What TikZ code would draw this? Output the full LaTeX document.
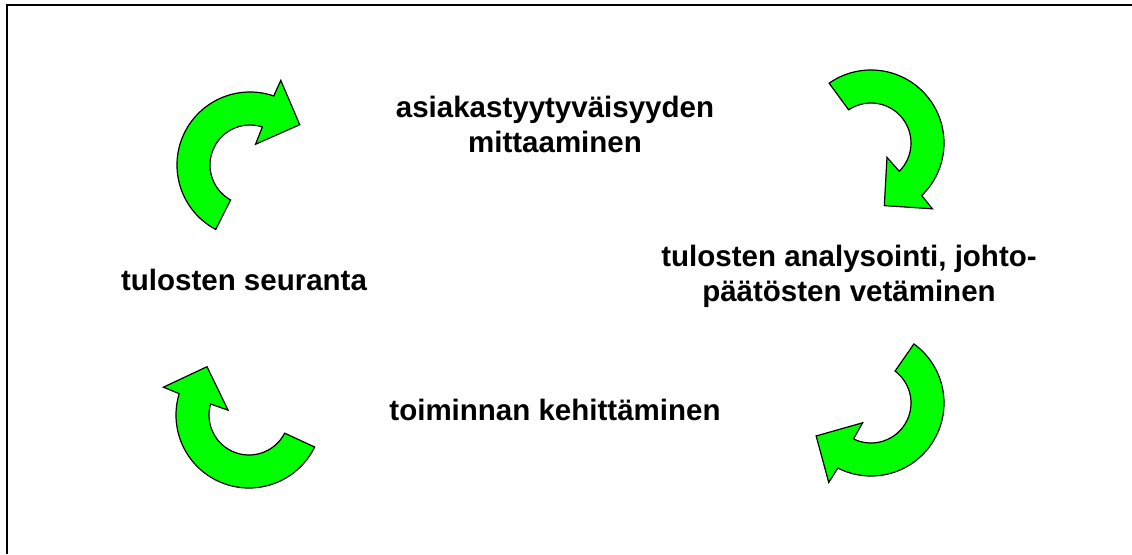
\documentclass[tikz,border=0pt]{standalone}
\usepackage{fontspec}
\setmainfont{Liberation Sans}
\definecolor{arrowgreen}{RGB}{0,255,0}
\begin{document}
\begin{tikzpicture}[x=1pt,y=-1pt,
  arrowbody/.style={fill=arrowgreen, draw=black, line width=1.2pt, line join=miter},
  stagetext/.style={font=\bfseries\fontsize{29.5}{35}\selectfont, align=center, inner sep=0pt},
  % curved block arrow turning clockwise; #1 rotates it about its centre
  cyclearrow/.pic={
    \filldraw[arrowbody] ({#1+118}:73)
      arc[start angle={#1+118}, end angle={#1+289}, radius=73]
      -- ({#1+290}:90) -- ({#1+321}:64) -- ({#1+285}:21.5) -- ({#1+288}:40)
      arc[start angle={#1+288}, end angle={#1+119}, radius=40] -- cycle;
  }]
\useasboundingbox (0,0) rectangle (1132,554);
% frame: top and left edges only
\coordinate (ftop) at (1132,5);
\coordinate (fcorner) at (7,5);
\coordinate (fbottom) at (7,554);
\draw[line width=2pt] (ftop) -- (fcorner) -- (fbottom);

% the four turning arrows
\pic at (250,165) {cyclearrow=0};
\pic at (871,143) {cyclearrow=117};
\pic at (871,403) {cyclearrow=188};
\pic at (249,415) {cyclearrow=268};

% stage labels
\node[stagetext] (measure) at (555,124) {asiakastyytyväisyyden\\mittaaminen};
\node[stagetext] (analyse) at (849,276) {tulosten analysointi, johto-\\päätösten vetäminen};
\node[stagetext] (develop) at (555,410) {toiminnan kehittäminen};
\node[stagetext] (follow) at (244,280) {tulosten seuranta};
\end{tikzpicture}
\end{document}
